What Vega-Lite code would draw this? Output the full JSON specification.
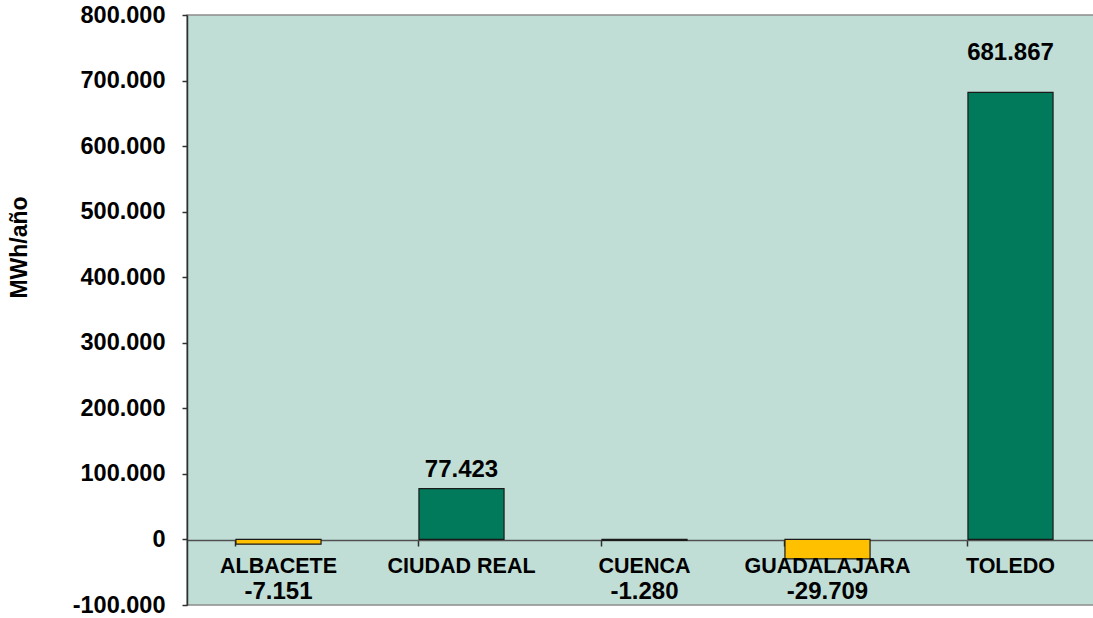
{
  "$schema": "https://vega.github.io/schema/vega-lite/v6.json",
  "autosize": {"type": "none"},
  "padding": {"left": 187, "top": 15, "right": 0, "bottom": 13},
  "width": 915,
  "height": 590,
  "background": "#ffffff",
  "config": {
    "locale": {"number": {"decimal": ",", "thousands": ".", "grouping": [3], "currency": ["", ""], "minus": "-"}},
    "view": {"fill": "#C1DED6", "stroke": "#8c8c8c", "strokeWidth": 1.5},
    "font": "Liberation Sans",
    "text": {"font": "Liberation Sans", "fontWeight": "bold", "fontSize": 24, "color": "#000000"}
  },
  "data": {
    "values": [
      {"provincia": "ALBACETE", "valor": -7151},
      {"provincia": "CIUDAD REAL", "valor": 77423},
      {"provincia": "CUENCA", "valor": -1280},
      {"provincia": "GUADALAJARA", "valor": -29709},
      {"provincia": "TOLEDO", "valor": 681867}
    ]
  },
  "encoding": {
    "x": {
      "field": "provincia", "type": "nominal", "sort": null,
      "scale": {"paddingInner": 0.535, "paddingOuter": 0.2675},
      "axis": {
        "title": null, "labels": false, "offset": -65, "bandPosition": 0,
        "domainColor": "#505050", "domainWidth": 1.5, "tickColor": "#303030", "tickWidth": 1.5, "tickSize": 6
      }
    },
    "y": {
      "field": "valor", "type": "quantitative",
      "scale": {"domain": [-100000, 800000], "nice": false, "zero": false},
      "axis": {
        "title": "MWh/año", "values": [-100000, 0, 100000, 200000, 300000, 400000, 500000, 600000, 700000, 800000],
        "format": ",.0f", "grid": false,
        "labelFont": "Liberation Sans", "labelFontWeight": "bold", "labelFontSize": 23.5, "labelColor": "#000000", "labelPadding": 17,
        "domainColor": "#303030", "domainWidth": 1.5, "tickColor": "#303030", "tickWidth": 1.5, "tickSize": 5,
        "titleFont": "Liberation Sans", "titleFontWeight": "bold", "titleFontSize": 23, "titleColor": "#000000",
        "titleAngle": 270, "titleX": -168, "titleY": 232, "titleAlign": "center", "titleBaseline": "middle"
      }
    }
  },
  "layer": [
    {
      "mark": {"type": "bar", "stroke": "#1a1a1a", "strokeWidth": 1.2},
      "encoding": {
        "color": {
          "condition": {"test": "datum.valor < 0", "value": "#FFC000"},
          "value": "#007A5A"
        }
      }
    },
    {
      "mark": {"type": "text", "baseline": "alphabetic", "dy": 34, "fontSize": 21.5},
      "encoding": {
        "y": {"datum": 0},
        "text": {"field": "provincia"}
      }
    },
    {
      "transform": [{"filter": "datum.valor < 0"}],
      "mark": {"type": "text", "baseline": "alphabetic", "dy": 60},
      "encoding": {
        "y": {"datum": 0},
        "text": {"field": "valor", "format": ",.0f"}
      }
    },
    {
      "transform": [{"filter": "datum.valor > 0 && datum.valor < 500000"}],
      "mark": {"type": "text", "baseline": "alphabetic", "dy": -12},
      "encoding": {
        "text": {"field": "valor", "format": ",.0f"}
      }
    },
    {
      "transform": [{"filter": "datum.valor >= 500000"}],
      "mark": {"type": "text", "baseline": "alphabetic", "dy": -32},
      "encoding": {
        "text": {"field": "valor", "format": ",.0f"}
      }
    }
  ]
}
